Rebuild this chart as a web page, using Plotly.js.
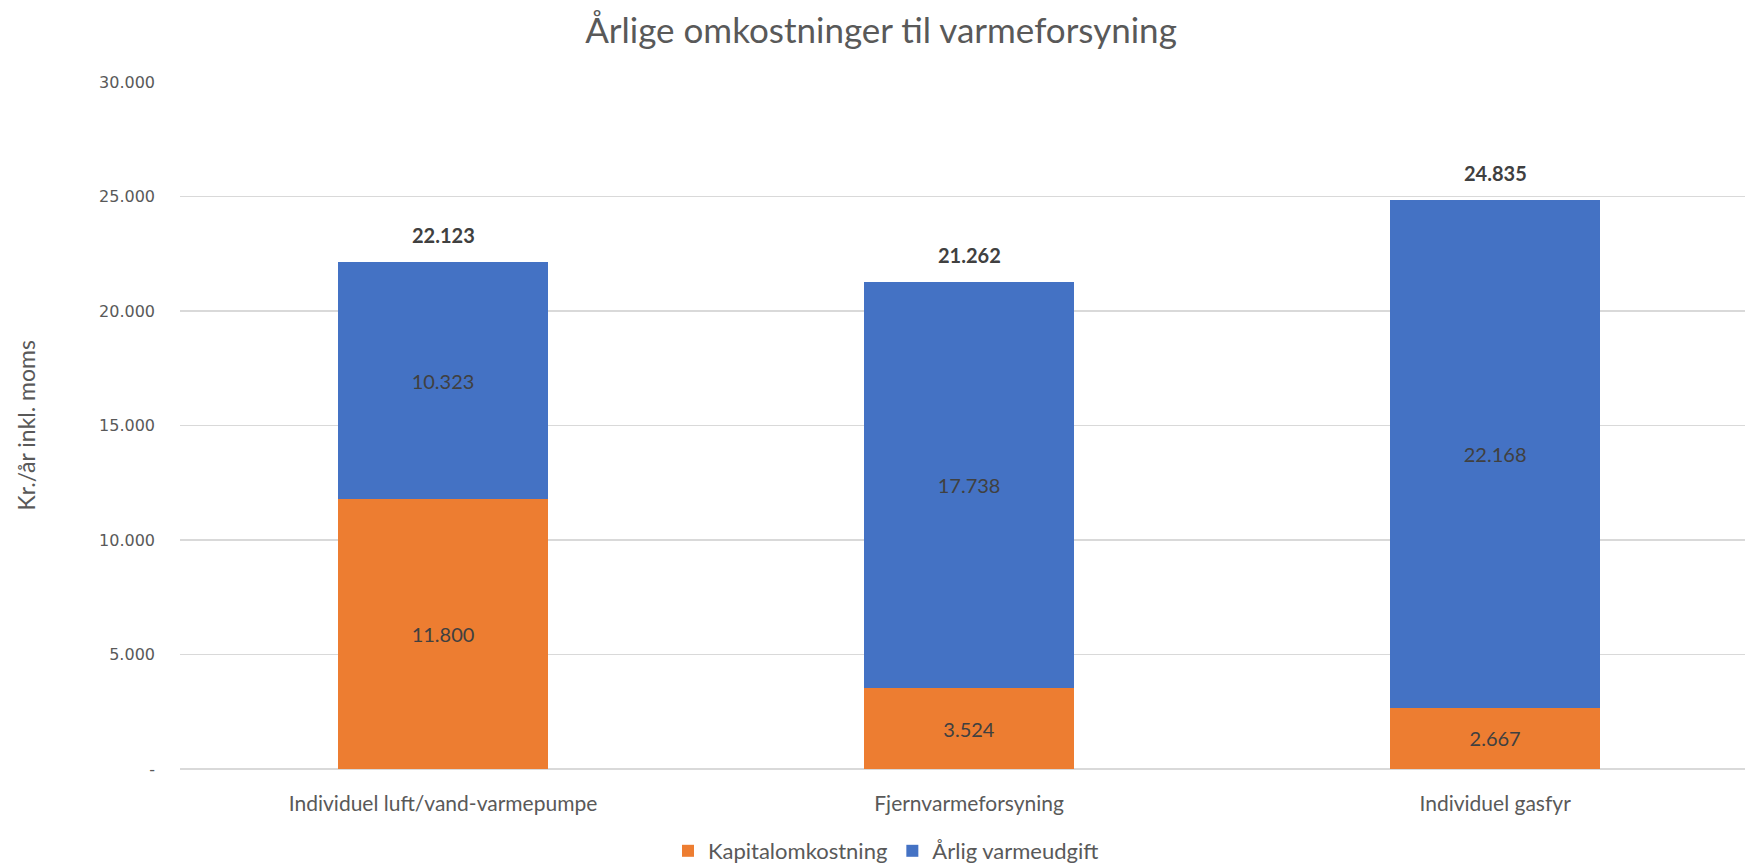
<!DOCTYPE html>
<html>
<head>
<meta charset="utf-8">
<script src="https://cdn.plot.ly/plotly-3.0.1.min.js"></script>
<style>html,body{margin:0;padding:0;background:#fff;}#chart{width:1745px;height:863px;}</style>
</head>
<body>
<div id="chart"></div>
<script>
const categories = ["Individuel luft/vand-varmepumpe", "Fjernvarmeforsyning", "Individuel gasfyr"];
const kapitalomkostning = [11800, 3524, 2667];
const aarligVarmeudgift = [10323, 17738, 22168];
const yTickVals = [0, 5000, 10000, 15000, 20000, 25000, 30000];
const yTickText = ["-", "5.000", "10.000", "15.000", "20.000", "25.000", "30.000"];

const totals = categories.map((c, i) => kapitalomkostning[i] + aarligVarmeudgift[i]);

const W = 1745, H = 863;
const mL = 180, mR = 0, mT = 82, mB = 94;
const plotW = W - mL - mR;

const fontMain = "Lato, 'Open Sans', sans-serif";
const fontTick = "'DejaVu Sans', Verdana, sans-serif";

const traces = [
  {
    type: 'bar', name: 'Kapitalomkostning', x: categories, y: kapitalomkostning,
    marker: {color: '#ED7D31'}, width: 0.4,
    text: kapitalomkostning, texttemplate: '%{y:,.0f}', textposition: 'inside',
    insidetextanchor: 'middle', textangle: 0, constraintext: 'none',
    textfont: {family: fontMain, size: 20, color: '#404040'},
    hoverinfo: 'skip'
  },
  {
    type: 'bar', name: 'Årlig varmeudgift', x: categories, y: aarligVarmeudgift,
    marker: {color: '#4472C4'}, width: 0.4,
    text: aarligVarmeudgift, texttemplate: '%{y:,.0f}', textposition: 'inside',
    insidetextanchor: 'middle', textangle: 0, constraintext: 'none',
    textfont: {family: fontMain, size: 20, color: '#404040'},
    hoverinfo: 'skip'
  }
];

const annotations = categories.map((c, i) => ({
  x: c, y: totals[i], xref: 'x', yref: 'y',
  text: '<b>' + totals[i].toLocaleString('de-DE') + '</b>',
  showarrow: false, yanchor: 'bottom', yshift: 13,
  font: {family: fontMain, size: 20, color: '#404040'}
}));
annotations.push({
  xref: 'paper', yref: 'paper', x: (25 - mL) / plotW, y: 0.5,
  text: 'Kr./år inkl. moms', textangle: -90, showarrow: false,
  xanchor: 'center', yanchor: 'middle',
  font: {family: fontMain, size: 23, color: '#595959'}
});

const layout = {
  width: W, height: H,
  margin: {l: mL, r: mR, t: mT, b: mB, pad: 0, autoexpand: false},
  paper_bgcolor: '#ffffff', plot_bgcolor: '#ffffff',
  separators: ',.',
  barmode: 'stack',
  title: {
    text: 'Årlige omkostninger til varmeforsyning',
    font: {family: fontMain, size: 35, color: '#595959'},
    x: 881 / W, xanchor: 'center', y: 1 - 31 / H, yanchor: 'middle',
    xref: 'container', yref: 'container'
  },
  xaxis: {
    type: 'category', range: [-0.5, 2.475], fixedrange: true, automargin: false,
    showgrid: false, showline: false, zeroline: false,
    ticks: '', ticklabelstandoff: 20,
    tickfont: {family: fontMain, size: 21, color: '#595959'}
  },
  yaxis: {
    range: [0, 30000], fixedrange: true, automargin: false,
    tickvals: yTickVals, ticktext: yTickText,
    showgrid: true, gridcolor: '#d9d9d9', gridwidth: 1.5,
    zeroline: true, zerolinecolor: '#d9d9d9', zerolinewidth: 1.5,
    showline: false, ticks: '', ticklabelstandoff: 24,
    tickfont: {family: fontTick, size: 16, color: '#595959'}
  },
  legend: {
    orientation: 'h', xref: 'container', yref: 'container',
    x: 886 / W, xanchor: 'center',
    y: (H - 851) / H, yanchor: 'middle',
    traceorder: 'normal',
    font: {family: fontMain, size: 22, color: '#595959'},
    itemwidth: 30, tracegroupgap: 0
  },
  annotations: annotations,
  showlegend: true
};

Plotly.newPlot('chart', traces, layout, {displayModeBar: false, staticPlot: true});
</script>
</body>
</html>
